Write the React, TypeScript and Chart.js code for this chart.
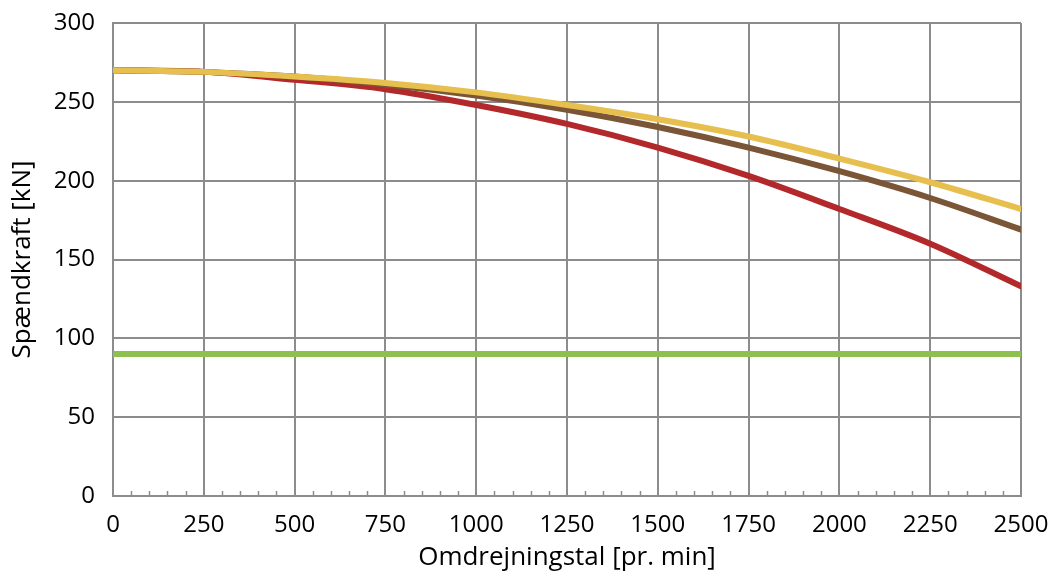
import React, { useEffect, useRef } from "react";
import { Chart, registerables } from "chart.js";

Chart.register(...registerables);

const rpm = [0, 250, 500, 750, 1000, 1250, 1500, 1750, 2000, 2250, 2500];
const yellowSeries = [270, 269, 266, 262, 256, 248, 239, 228, 214, 199, 182];
const brownSeries = [270, 269, 266, 261, 254, 245, 234, 221, 206, 189, 169];
const redSeries = [270, 269, 264, 258, 248, 236, 221, 203, 182, 160, 133];
const greenSeries = [90, 90, 90, 90, 90, 90, 90, 90, 90, 90, 90];

const xTitle = "Omdrejningstal [pr. min]";
const yTitle = "Spændkraft [kN]";

const FONT = "'Open Sans', sans-serif";

const minorTicks = {
  id: "minorTicks",
  afterDatasetsDraw(chart: any) {
    const x = chart.scales.x;
    const y = chart.scales.y;
    const ctx = chart.ctx;
    ctx.save();
    ctx.strokeStyle = "#8c8c8c";
    ctx.lineWidth = 1.5;
    const bottom = y.getPixelForValue(0);
    for (let v = 50; v < 2500; v += 50) {
      if (v % 250 === 0) continue;
      const px = Math.round(x.getPixelForValue(v)) + 0.5;
      ctx.beginPath();
      ctx.moveTo(px, bottom);
      ctx.lineTo(px, bottom - 5);
      ctx.stroke();
    }
    ctx.restore();
  },
};

export default function App() {
  const ref = useRef<HTMLCanvasElement>(null);
  useEffect(() => {
    document.body.style.margin = "0";
    const mk = (d: number[]) => rpm.map((r, i) => ({ x: r, y: d[i] }));
    const ds = (label: string, d: number[], color: string) => ({
      label,
      data: mk(d),
      borderColor: color,
      backgroundColor: color,
      borderWidth: 6,
      pointRadius: 0,
      cubicInterpolationMode: "monotone" as const,
      borderCapStyle: "round" as const,
    });
    const chart = new Chart(ref.current!, {
      type: "line",
      data: {
        datasets: [
          ds("Gul", yellowSeries, "#E6BF4E"),
          ds("Brun", brownSeries, "#7A5536"),
          ds("Rød", redSeries, "#B3282A"),
          ds("Grøn", greenSeries, "#8DC04D"),
        ],
      },
      options: {
        animation: false,
        responsive: false,
        maintainAspectRatio: false,
        layout: { padding: { top: 23, right: 38, left: 0, bottom: 0 } },
        plugins: { legend: { display: false }, tooltip: { enabled: false } },
        scales: {
          x: {
            type: "linear",
            min: 0,
            max: 2500,
            afterFit: (s: any) => {
              s.height = 77;
              s.paddingLeft = 0;
              s.paddingRight = 0;
            },
            ticks: {
              stepSize: 250,
              color: "#000",
              font: { family: FONT, size: 24 },
              padding: 15,
              maxRotation: 0,
              callback: (v: any) => String(v),
            },
            grid: { color: "#8c8c8c", lineWidth: 2, drawTicks: false },
            border: { color: "#8c8c8c", width: 2 },
            title: {
              display: true,
              text: xTitle,
              color: "#000",
              font: { family: FONT, size: 26 },
              padding: { top: 0, bottom: 0 },
            },
          },
          y: {
            min: 0,
            max: 300,
            afterFit: (s: any) => {
              s.width = 113;
              s.paddingTop = 0;
              s.paddingBottom = 0;
            },
            ticks: {
              stepSize: 50,
              color: "#000",
              font: { family: FONT, size: 24 },
              padding: 18,
              callback: (v: any) => String(v),
            },
            grid: { color: "#8c8c8c", lineWidth: 2, drawTicks: false },
            border: { color: "#8c8c8c", width: 2 },
            title: {
              display: true,
              text: yTitle,
              color: "#000",
              font: { family: FONT, size: 26 },
              padding: { top: 7, bottom: 0 },
            },
          },
        },
      },
      plugins: [minorTicks],
    });
    return () => chart.destroy();
  }, []);
  return <canvas ref={ref} width={1059} height={573} style={{ display: "block" }} />;
}
